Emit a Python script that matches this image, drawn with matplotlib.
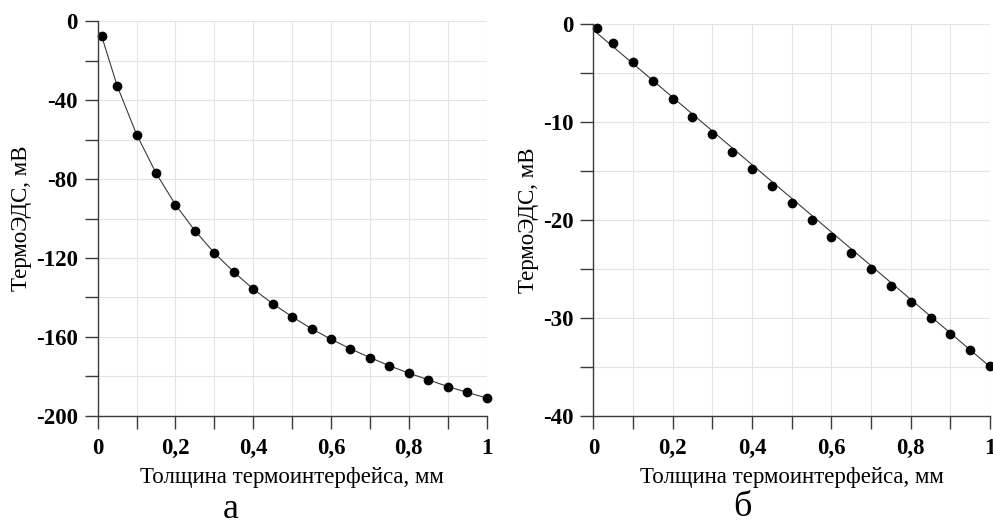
import numpy as np
import matplotlib.pyplot as plt
from matplotlib.ticker import MultipleLocator, FuncFormatter

plt.rcParams["font.family"] = ["Liberation Serif", "DejaVu Serif"]

# thickness of the thermal interface, mm
thickness = [0.01, 0.05, 0.1, 0.15, 0.2, 0.25, 0.3, 0.35, 0.4, 0.45, 0.5,
             0.55, 0.6, 0.65, 0.7, 0.75, 0.8, 0.85, 0.9, 0.95, 1.0]

# panel a: thermo-EMF, mV
emf_a = [-7.4, -32.7, -57.4, -77.0, -93.0, -106.2, -117.5, -127.1, -135.8,
         -143.2, -149.8, -155.9, -161.2, -166.1, -170.5, -174.7, -178.4,
         -181.8, -185.2, -188.2, -191.0]

# panel b: thermo-EMF, mV
emf_b = [-0.41, -1.97, -3.9, -5.8, -7.63, -9.47, -11.27, -13.1, -14.84,
         -16.58, -18.31, -20.05, -21.76, -23.39, -25.05, -26.76, -28.4,
         -30.06, -31.67, -33.34, -34.94]
# linear trend drawn in panel b
trend_x = [0.01, 1.0]
trend_y = [-0.95, -35.0]

xlabel = "Толщина термоинтерфейса, мм"
ylabel = "ТермоЭДС, мВ"
panel_names = ["а", "б"]

fig = plt.figure(figsize=(9.93, 5.24), dpi=100)
ax_a = fig.add_axes([0.0984, 0.2067, 0.3916, 0.7526])
ax_b = fig.add_axes([0.5975, 0.2067, 0.3995, 0.7475])

line_col = "#3a3a3a"
comma = FuncFormatter(lambda v, p: f"{v:g}".replace(".", ",").replace("−", "-"))


def style(ax, ymin, ystep):
    ax.set_xlim(0, 1)
    ax.set_ylim(ymin, 0)
    ax.xaxis.set_major_locator(MultipleLocator(0.2))
    ax.xaxis.set_minor_locator(MultipleLocator(0.1))
    ax.yaxis.set_major_locator(MultipleLocator(ystep))
    ax.yaxis.set_minor_locator(MultipleLocator(ystep / 2))
    ax.xaxis.set_major_formatter(comma)
    ax.yaxis.set_major_formatter(comma)
    ax.grid(True, which="both", color="#e4e4e4", lw=0.8)
    ax.set_axisbelow(True)
    for s in ["top", "right"]:
        ax.spines[s].set_visible(False)
    for s in ["left", "bottom"]:
        ax.spines[s].set_color(line_col)
        ax.spines[s].set_linewidth(1.0)
    ax.tick_params(axis="x", which="both", direction="out", length=9.2,
                   width=1.0, color=line_col, pad=7)
    ax.tick_params(axis="y", which="both", direction="out", length=9.2,
                   width=1.0, color=line_col, pad=5)
    for lab in ax.get_xticklabels() + ax.get_yticklabels():
        lab.set_fontsize(16.5)
        lab.set_fontweight("bold")
    ax.set_xlabel(xlabel, fontsize=16.5, labelpad=5.5)
    ax.set_ylabel(ylabel, fontsize=16.5, labelpad=3)


ax_a.plot(thickness, emf_a, color=line_col, lw=0.8)
ax_a.plot(thickness, emf_a, "o", color="black", ms=6, clip_on=False)
style(ax_a, -200, 40)

ax_b.plot(trend_x, trend_y, color=line_col, lw=0.8)
ax_b.plot(thickness, emf_b, "o", color="black", ms=6, clip_on=False)
style(ax_b, -40, 10)

fig.text(0.2325, 0.012, panel_names[0], fontsize=26, ha="center", va="baseline",
         family=["Liberation Serif"])
fig.text(0.748, 0.016, panel_names[1], fontsize=26, ha="center", va="baseline",
         family=["Liberation Serif"])

fig.savefig("out.png", dpi=100)
